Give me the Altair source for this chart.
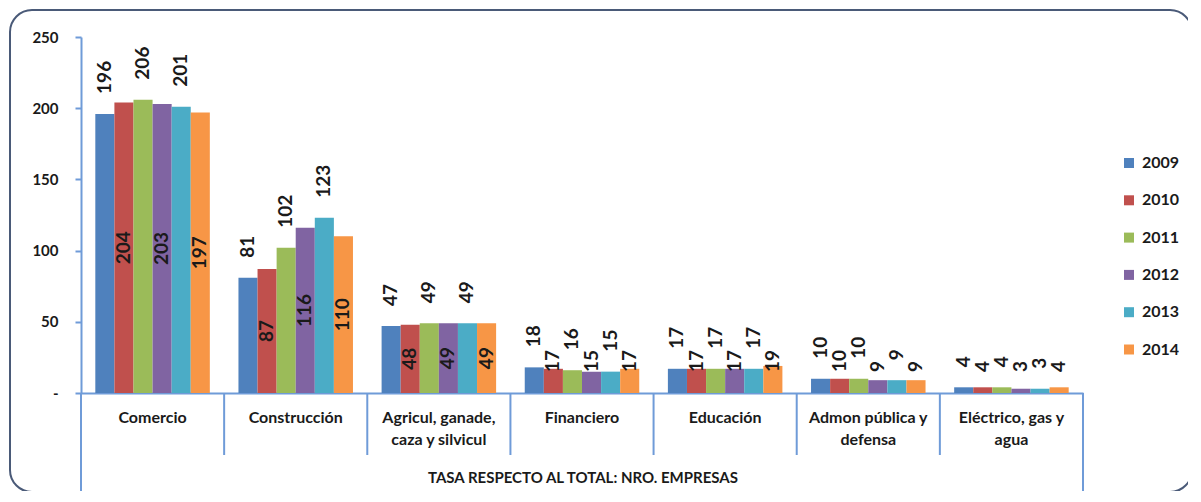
import altair as alt
import pandas as pd

categories = ["Comercio", "Construcción", "Agricul, ganade, caza y silvicul", "Financiero",
              "Educación", "Admon pública y defensa", "Eléctrico, gas y agua"]
cat_labels = ["Comercio", "Construcción", "Agricul, ganade,|caza y silvicul", "Financiero",
              "Educación", "Admon pública y|defensa", "Eléctrico, gas y|agua"]
years = ["2009", "2010", "2011", "2012", "2013", "2014"]
v2009 = [196, 81, 47, 18, 17, 10, 4]
v2010 = [204, 87, 48, 17, 17, 10, 4]
v2011 = [206, 102, 49, 16, 17, 10, 4]
v2012 = [203, 116, 49, 15, 17, 9, 3]
v2013 = [201, 123, 49, 15, 17, 9, 3]
v2014 = [197, 110, 49, 17, 19, 9, 4]
series = [v2009, v2010, v2011, v2012, v2013, v2014]
colors = ["#4F81BD", "#C0504D", "#9BBB59", "#8064A2", "#4BACC6", "#F79646"]
y_ticks = [0, 50, 100, 150, 200, 250]
x_title = "TASA RESPECTO AL TOTAL: NRO. EMPRESAS"
odd_years = ["2009", "2011", "2013"]

rows = []
for y, vals in zip(years, series):
    for c, v in zip(categories, vals):
        rows.append({"cat": c, "year": y, "value": v,
                     "pos": "out" if y in odd_years else "in"})
df = pd.DataFrame(rows)
cats_df = pd.DataFrame({"cat": categories, "label": cat_labels})

FONT = "Lato"
AX = "#6F9BD8"
TXT = "#1A1A1A"

x_enc = alt.X("cat:N", sort=categories, title=None,
              scale=alt.Scale(paddingInner=0, paddingOuter=0),
              axis=alt.Axis(labels=False, ticks=False, domainColor=AX, domainWidth=2, grid=False))
xo_enc = alt.XOffset("year:N", sort=years, scale=alt.Scale(paddingInner=0, paddingOuter=0.75))

bars = alt.Chart(df).mark_bar().encode(
    x=x_enc,
    xOffset=xo_enc,
    y=alt.Y("value:Q", title=None,
            scale=alt.Scale(domain=[0, 250], nice=False),
            axis=alt.Axis(values=y_ticks, grid=False, domainColor=AX, domainWidth=2,
                          tickColor=AX, tickWidth=2, tickSize=6, labelPadding=17,
                          labelFont=FONT, labelFontWeight="bold", labelFontSize=15,
                          labelColor=TXT,
                          labelExpr="datum.value == 0 ? '-\u00a0\u00a0' : datum.label")),
    color=alt.Color("year:N", sort=years,
                    scale=alt.Scale(domain=years, range=colors),
                    legend=alt.Legend(orient="none", legendX=1040, legendY=118, title=None,
                                      symbolType="square", symbolSize=100, symbolStrokeWidth=0,
                                      labelFont=FONT, labelFontWeight="bold", labelFontSize=16,
                                      labelColor=TXT, rowPadding=21.3, labelOffset=5)),
)

lbl_kw = dict(font=FONT, fontWeight="bold", fontSize=19, color=TXT, angle=270, baseline="middle")

out_labels = alt.Chart(df).transform_filter("datum.pos == 'out'").mark_text(
    align="left", dx=20, **lbl_kw).encode(
    x=alt.X("cat:N", sort=categories, title=None), xOffset=alt.XOffset("year:N", sort=years),
    y=alt.Y("value:Q", title=None), text="value:Q")

in_big = alt.Chart(df).transform_filter("datum.pos == 'in' && datum.value >= 40").transform_calculate(
    mid="datum.value / 2").mark_text(align="center", **lbl_kw).encode(
    x=alt.X("cat:N", sort=categories, title=None), xOffset=alt.XOffset("year:N", sort=years),
    y=alt.Y("mid:Q", title=None), text="value:Q")

in_small = alt.Chart(df).transform_filter("datum.pos == 'in' && datum.value < 40").mark_text(
    align="left", dx=21, **lbl_kw).encode(
    x=alt.X("cat:N", sort=categories, title=None), xOffset=alt.XOffset("year:N", sort=years),
    y=alt.YDatum(0), text="value:Q")

cat_text = alt.Chart(cats_df).mark_text(
    font=FONT, fontWeight="bold", fontSize=16, color=TXT, lineBreak="|",
    baseline="top", align="center", lineHeight=22).encode(
    x=alt.X("cat:N", sort=categories, title=None), y=alt.value(373), text="label:N")

dividers = alt.Chart(cats_df).transform_filter(
    f"datum.cat != '{categories[0]}'").mark_rule(color=AX, strokeWidth=2).encode(
    x=alt.X("cat:N", sort=categories, bandPosition=0, title=None), y=alt.value(356), y2=alt.value(418))

edge_left = alt.Chart(cats_df).transform_filter(
    f"datum.cat == '{categories[0]}'").mark_rule(color=AX, strokeWidth=2).encode(
    x=alt.X("cat:N", sort=categories, bandPosition=0, title=None), y=alt.value(356), y2=alt.value(455))

edge_right = alt.Chart(cats_df).transform_filter(
    f"datum.cat == '{categories[-1]}'").mark_rule(color=AX, strokeWidth=2).encode(
    x=alt.X("cat:N", sort=categories, bandPosition=1, title=None), y=alt.value(356), y2=alt.value(455))

title_text = alt.Chart(pd.DataFrame({"t": [x_title]})).mark_text(
    font=FONT, fontWeight="bold", fontSize=15, color=TXT, align="center", baseline="middle").encode(
    x=alt.value(502), y=alt.value(441), text="t:N")

border = alt.Chart(pd.DataFrame({"t": [0]})).mark_rect(
    fillOpacity=0, stroke="#4A5A78", strokeWidth=2, cornerRadius=22).encode(
    x=alt.value(-71), x2=alt.value(1111), y=alt.value(-27), y2=alt.value(455))

chart = alt.layer(bars, border, out_labels, in_big, in_small, cat_text, dividers,
                  edge_left, edge_right, title_text).properties(
    width=1002, height=356,
    padding={"left": 73, "top": 29, "right": 105, "bottom": 98},
    autosize=alt.AutoSizeParams(type="none"),
).configure_view(stroke=None)

chart.save("out.html", embed_options={"renderer": "svg", "actions": False})
